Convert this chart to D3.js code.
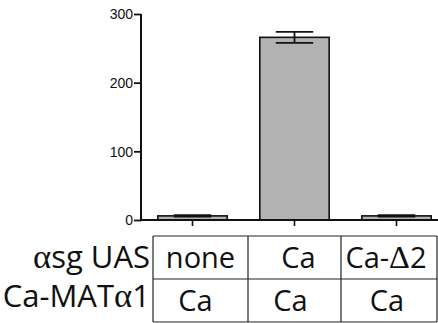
<!DOCTYPE html>
<html>
<head>
<meta charset="utf-8">
<script src="https://cdn.jsdelivr.net/npm/d3@7.8.5/dist/d3.min.js"></script>
<style>
  body { margin: 0; background: #fff; }
  svg { display: block; }
  .tick-label { font-family: "Liberation Sans", Arial, sans-serif; font-size: 14px; }
  .tbl { font-family: "Open Sans", sans-serif; font-size: 29px; fill: #111; }
  .lbl { font-size: 31px; }
  .greek { font-family: "Liberation Serif", "DejaVu Serif", serif; font-size: 1.12em; }
</style>
</head>
<body>
<script>
// données
const groups = ['none', 'Ca', 'Ca-d2'];
const means = [6, 266, 6];
const errs = [1, 8, 1];
const yTicks = [0, 100, 200, 300];

// tableau sous le graphique
const rowLabels = [['α', 'sg UAS'], ['Ca-MAT', 'α', '1']];
const uasRow = ['none', 'Ca', 'Ca-Δ2'];
const matRow = ['Ca', 'Ca', 'Ca'];

const W = 438, H = 323;
const svg = d3.select('body').append('svg').attr('width', W).attr('height', H);

const axisX = 141;
const y = d3.scaleLinear().domain([0, 300]).range([220, 14]);
const x = d3.scaleBand().domain(groups).range([141.5, 447.5])
    .paddingInner(0.32).paddingOuter(0.16);

// barres
svg.append('g').selectAll('rect').data(groups).join('rect')
    .attr('x', d => x(d))
    .attr('y', (d, i) => y(means[i]))
    .attr('width', x.bandwidth())
    .attr('height', (d, i) => y(0) - y(means[i]))
    .attr('fill', '#b3b3b3')
    .attr('stroke', '#111')
    .attr('stroke-width', 1.6);

// barres d'erreur
const eb = svg.append('g').attr('stroke', '#111').attr('stroke-width', 1.8);
groups.forEach((g, i) => {
    const cx = x(g) + x.bandwidth() / 2;
    const hw = x.bandwidth() * 0.27;
    const top = y(means[i] + errs[i]), bot = y(means[i] - errs[i]);
    eb.append('line').attr('x1', cx).attr('x2', cx).attr('y1', top).attr('y2', bot);
    eb.append('line').attr('x1', cx - hw).attr('x2', cx + hw).attr('y1', top).attr('y2', top);
    eb.append('line').attr('x1', cx - hw).attr('x2', cx + hw).attr('y1', bot).attr('y2', bot);
});

// axe Y
const yAxis = svg.append('g').attr('transform', `translate(${axisX},0)`)
    .call(d3.axisLeft(y).tickValues(yTicks).tickSize(7).tickPadding(1).tickFormat(d3.format('d')));
yAxis.select('.domain').attr('stroke', '#111').attr('stroke-width', 2).attr('d', `M0,${y(300)}V${y(0)}`);
yAxis.selectAll('.tick line').attr('stroke', '#111').attr('stroke-width', 1.8);
yAxis.selectAll('.tick text').attr('class', 'tick-label').attr('fill', '#111').attr('dy', '0.35em');

// axe X
const xAxis = svg.append('g').attr('transform', `translate(0,${y(0)})`)
    .call(d3.axisBottom(x).tickSize(6).tickFormat(''));
xAxis.select('.domain').attr('stroke', '#111').attr('stroke-width', 2).attr('d', `M${axisX},0H${W}`);
xAxis.selectAll('.tick line').attr('stroke', '#111').attr('stroke-width', 1.6);

// tableau
const colEdges = [153, 248, 341, 437];
const rowEdges = [236, 279, 322];
const tbl = svg.append('g').attr('stroke', '#222').attr('stroke-width', 1.2);
colEdges.forEach(cx => tbl.append('line').attr('x1', cx).attr('x2', cx).attr('y1', rowEdges[0]).attr('y2', rowEdges[2]));
rowEdges.forEach(ry => tbl.append('line').attr('x1', colEdges[0]).attr('x2', colEdges[3]).attr('y1', ry).attr('y2', ry));

const baselines = [268, 311];
const nudge = [[0, 4, -3], [-5, -4, -2]];
[uasRow, matRow].forEach((row, r) => {
    row.forEach((txt, c) => {
        const cx = (colEdges[c] + colEdges[c + 1]) / 2 + nudge[r][c];
        const t = svg.append('text').attr('class', 'tbl').attr('x', cx).attr('y', baselines[r])
            .attr('text-anchor', 'middle');
        txt.split(/(Δ)/).filter(s => s).forEach(part => {
            t.append('tspan').attr('class', part === 'Δ' ? 'greek' : null).text(part);
        });
    });
});

rowLabels.forEach((parts, r) => {
    const t = svg.append('text').attr('class', 'tbl lbl').attr('x', 150).attr('y', baselines[r] - (r ? 4 : 0))
        .attr('text-anchor', 'end');
    parts.forEach(part => {
        t.append('tspan').attr('class', part === 'α' ? 'greek' : null).text(part);
    });
});
</script>
</body>
</html>
